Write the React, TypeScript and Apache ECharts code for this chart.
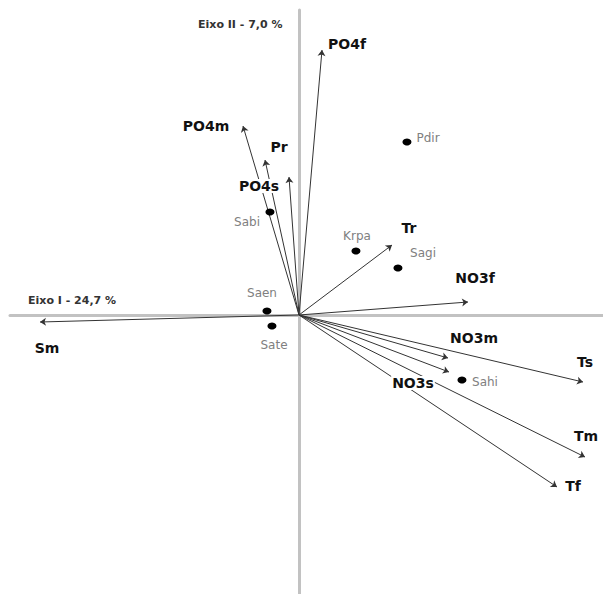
import React, { useEffect, useRef } from "react";
import * as echarts from "echarts";

// Variable vectors (PCA loadings, plot units)
const varNames = ["Sm", "PO4f", "PO4m", "Pr", "PO4s", "Tr", "NO3f", "NO3m", "NO3s", "Ts", "Tm", "Tf"];
const varX = [-2.59, 0.23, -0.56, -0.34, -0.10, 0.93, 1.69, 1.49, 1.50, 2.84, 2.86, 2.58];
const varY = [-0.07, 2.65, 1.89, 1.55, 1.38, 0.70, 0.13, -0.43, -0.57, -0.67, -1.42, -1.72];

// Site scores
const siteNames = ["Pdir", "Sabi", "Krpa", "Sagi", "Saen", "Sate", "Sahi"];
const siteX = [1.08, -0.29, 0.57, 0.99, -0.32, -0.27, 1.63];
const siteY = [1.73, 1.03, 0.64, 0.47, 0.04, -0.11, -0.65];

const axis1Title = "Eixo I - 24,7 %";
const axis2Title = "Eixo II - 7,0 %";

// label offsets (style)
const varOffsets: Record<string, [number, number]> = {
  Sm: [7, 26],
  PO4f: [25, -6],
  PO4m: [-37, 0],
  Pr: [14, -13],
  PO4s: [-30, 9],
  Tr: [17, -17],
  NO3f: [7, -24],
  NO3m: [26, -20],
  NO3s: [-36, 11],
  Ts: [2, -20],
  Tm: [1, -21],
  Tf: [16, -1],
};
const siteOffsets: Record<string, [number, number]> = {
  Pdir: [21, -4],
  Sabi: [-23, 10],
  Krpa: [1, -15],
  Sagi: [25, -15],
  Saen: [-5, -18],
  Sate: [2, 19],
  Sahi: [23, 2],
};

export default function App() {
  const ref = useRef<HTMLDivElement>(null);
  useEffect(() => {
    document.body.style.margin = "0";
    const chart = echarts.init(ref.current!, null, { renderer: "svg" });
    const font = "DejaVu Sans, Verdana, sans-serif";
    chart.setOption({
      animation: false,
      backgroundColor: "#fff",
      grid: { left: 10, right: 0, top: 10, bottom: 0 },
      xAxis: {
        type: "value",
        min: -2.89,
        max: 3.04,
        axisLine: { show: true, onZero: true, lineStyle: { color: "#c2c2c2", width: 3 } },
        axisTick: { show: false },
        axisLabel: { show: false },
        splitLine: { show: false },
      },
      yAxis: {
        type: "value",
        min: -2.79,
        max: 3.05,
        axisLine: { show: true, onZero: true, lineStyle: { color: "#c2c2c2", width: 3 } },
        axisTick: { show: false },
        axisLabel: { show: false },
        splitLine: { show: false },
      },
      graphic: [
        {
          type: "text",
          left: 198,
          top: 19,
          style: { text: axis2Title, font: `bold 11px ${font}`, fill: "#333" },
        },
        {
          type: "text",
          left: 28,
          top: 295,
          style: { text: axis1Title, font: `bold 11px ${font}`, fill: "#333" },
        },
      ],
      series: [
        {
          type: "lines",
          coordinateSystem: "cartesian2d",
          z: 2,
          symbol: ["none", "arrow"],
          symbolSize: 6,
          lineStyle: { color: "#333", width: 1, opacity: 1 },
          data: varNames.map((n, i) => ({ name: n, coords: [[0, 0], [varX[i], varY[i]]] })),
        },
        {
          type: "scatter",
          z: 3,
          symbolSize: 0,
          itemStyle: { opacity: 1 },
          data: varNames.map((n, i) => ({
            name: n,
            value: [varX[i], varY[i]],
            label: {
              show: true,
              position: "inside",
              offset: varOffsets[n],
              formatter: n,
              color: "#111",
              fontSize: 14,
              fontWeight: "bold",
              fontFamily: font,
              backgroundColor: "#fff",
              padding: [0, 1],
            },
          })),
        },
        {
          type: "scatter",
          z: 4,
          symbol: "circle",
          symbolSize: [9, 7],
          itemStyle: { color: "#000", opacity: 1 },
          data: siteNames.map((n, i) => ({
            name: n,
            value: [siteX[i], siteY[i]],
            label: {
              show: true,
              position: "inside",
              offset: siteOffsets[n],
              formatter: n,
              color: "#808080",
              fontSize: 12,
              fontFamily: font,
            },
          })),
        },
      ],
    });
    return () => chart.dispose();
  }, []);
  return <div ref={ref} style={{ position: "fixed", left: 0, top: 0, width: 603, height: 594 }} />;
}
